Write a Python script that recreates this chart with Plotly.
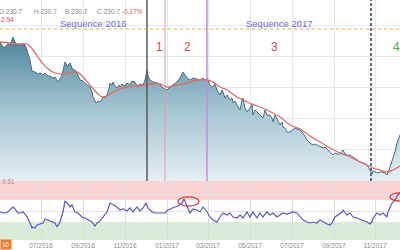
import plotly.graph_objects as go

# ---------------- data ----------------
sessions = [0,3,5,8,10,12,13,15,17,20,23,25,27,30,32,35,38,40,43,45,48,50,53,55,58,60,62,64,65,67,68,70,72,73,75,77,80,83,85,88,90,92,93,95,96,98,100,102,103,105,107,109,110,112,113,115,117,119,120,122,125,127,130,132,135,137,140,143,145,147,148,150,153,157,160,163,165,167,170,173,177,180,183,185,187,190,193,197,200,203,205,207,210,213,215,217,220,222,223,225,227,230,232,233,235,237,240,242,243,245,247,250,252,253,255,257,260,263,265,267,270,272,273,275,277,280,282,283,285,287,290,293,295,297,300,303,305,307,310,313,315,317,320,323,325,327,330,333,335,337,340,343,345,347,350,353,355,357,360,363,365,367,370,372,373,375,378,380,382,385,387,389,390,393,395,397,398,400]
price = [230.7,225.7,225.7,228.7,227.7,234.7,235.7,230.7,228.7,227.7,228.7,227.7,222.7,212.7,201.7,200.7,198.7,199.7,197.7,199.7,196.7,196.7,194.7,195.7,190.7,193.7,197.7,206.7,210.7,206.7,207.7,209.7,204.7,202.7,202.7,199.7,192.7,191.7,189.7,187.7,185.7,180.7,175.7,171.7,169.7,171.7,170.7,173.7,175.7,174.7,177.7,184.7,189.7,187.7,190.7,186.7,184.7,187.7,185.7,188.7,186.7,189.7,187.7,191.7,190.7,186.7,188.7,187.7,192.7,202.7,196.7,192.7,190.7,189.7,187.7,184.7,183.7,182.7,185.7,187.7,190.7,194.7,200.7,197.7,194.7,192.7,194.7,193.7,192.7,194.7,192.7,194.7,187.7,185.7,188.7,182.7,177.7,182.7,180.7,174.7,177.7,172.7,174.7,169.7,171.7,167.7,162.7,172.7,174.7,164.7,160.7,164.7,168.7,157.7,162.7,160.7,157.7,154.7,162.7,157.7,157.7,154.7,150.7,157.7,153.7,147.7,150.7,145.7,144.7,140.7,140.7,142.7,144.7,143.7,142.7,139.7,135.7,132.7,129.7,127.7,128.7,127.7,125.7,124.7,125.7,123.7,119.7,117.7,119.7,118.7,118.7,122.7,118.7,117.7,117.7,115.7,114.7,112.7,110.7,109.7,108.7,107.7,102.7,98.7,101.7,100.7,99.7,100.7,100.7,99.7,97.7,102.7,105.7,114.7,120.7,129.7,132.7,137.7]

ma_sessions = [0,10,20,27,33,40,47,55,63,70,77,83,90,97,103,110,117,127,140,150,160,167,177,187,197,207,213,220,227,237,247,257,267,280,290,300,310,320,330,340,350,360,367,373,380,387,393,400]
ma = [230.7,229.7,228.7,228.7,222.7,212.7,204.7,199.7,198.7,199.7,200.7,195.7,187.7,179.7,175.7,178.7,182.7,185.7,186.7,188.7,188.7,185.7,187.7,189.7,192.7,192.7,190.7,185.7,182.7,175.7,170.7,166.7,162.7,155.7,147.7,143.7,136.7,130.7,124.7,119.7,115.7,110.7,107.7,104.7,102.7,100.7,102.7,106.7]

rsi_sessions = [0,3,7,10,13,15,18,22,23,25,27,30,32,33,35,37,40,43,45,48,52,55,57,60,63,65,67,70,72,75,78,82,85,88,92,95,97,99,103,107,110,113,117,120,123,127,130,133,137,140,143,146,148,152,155,160,165,168,172,175,178,182,184,187,190,193,197,200,203,207,210,213,217,220,223,227,230,233,237,240,243,247,250,253,257,260,263,267,270,273,277,280,283,287,290,293,297,300,303,307,310,313,317,320,323,327,330,332,335,338,342,343,347,350,353,357,360,363,367,370,372,373,377,380,383,387,388,392,395,398,400]
rsi = [48.7,46.4,46.9,51.8,57.3,53.6,46.4,46.9,48.7,44.5,39.6,28.2,19.1,20.9,19.1,24.5,26.4,28.2,35.5,33.6,30.0,28.2,20.9,30.0,48.2,68.2,64.5,57.3,60.9,48.2,46.4,39.1,37.3,33.6,30.0,22.7,28.2,30.0,39.1,48.2,64.5,60.9,57.3,51.8,53.6,50.0,55.5,48.2,57.3,50.0,55.5,64.5,55.5,48.2,46.4,46.4,46.4,51.8,55.5,57.3,59.1,64.5,71.8,57.3,46.4,53.6,51.8,48.2,57.3,48.2,39.1,33.6,30.0,39.1,46.4,42.7,46.4,39.1,37.3,42.7,37.3,48.2,39.1,48.2,37.3,46.4,39.1,48.2,42.7,46.4,39.1,42.7,46.4,44.5,46.4,48.2,46.4,39.1,33.6,30.0,28.2,30.0,28.2,33.6,30.0,26.4,24.5,28.2,39.1,42.7,48.2,51.8,42.7,46.4,39.1,37.3,35.5,33.6,30.0,26.4,30.0,37.3,46.4,42.7,46.4,39.1,48.2,64.5,70.0,79.1,82.7]

tick_sessions = [41, 83, 125, 167, 208, 250, 292, 334, 375]
tick_labels = ["07/2016", "09/2016", "11/2016", "01/2017", "03/2017", "05/2017", "07/2017", "09/2017", "11/2017"]

event_sessions = [147, 165, 207, 371]
event_colors = ["#5a5a5a", "#e79a9a", "#c98ae0", "#2c3a86"]
event_dash = ["solid", "solid", "solid", "3px,2px"]
event_width = [1.5, 1, 1.5, 1.5]

phase_labels = ["1", "2", "3", "4"]
phase_sessions = [159, 187, 274, 396]
phase_colors = ["#d9474a", "#d9474a", "#d9474a", "#4fa54f"]

sequence_labels = ["Sequence 2016", "Sequence 2017"]
sequence_sessions = [93, 279]

level_price = 243.7
rsi_upper, rsi_lower = 70, 30
header = [("O 230.7", "#858585"), ("H 230.7", "#858585"), ("B 230.7", "#858585"), ("C 230.7", "#858585"), ("-0.17%", "#e05a4a")]

FONT = "Liberation Sans, Arial, sans-serif"
W, H = 400, 250

fig = go.Figure()
fig.add_trace(go.Scatter(
    x=sessions, y=price, mode="lines", line=dict(color="#46707f", width=1),
    fill="tozeroy",
    fillgradient=dict(type="vertical", start=236, stop=91.7,
                      colorscale=[[0, "#4b8399"], [0.45, "#9dbfcd"], [1, "#e6eff4"]]),
    xaxis="x", yaxis="y", hoverinfo="skip", showlegend=False))
fig.add_trace(go.Scatter(
    x=ma_sessions, y=ma, mode="lines", line=dict(color="#e36868", width=1.3, shape="spline"),
    xaxis="x", yaxis="y", hoverinfo="skip", showlegend=False))
fig.add_trace(go.Scatter(
    x=rsi_sessions, y=rsi, mode="lines", line=dict(color="#5858c4", width=1.2),
    xaxis="x2", yaxis="y2", hoverinfo="skip", showlegend=False))

shapes = []
shapes.append(dict(type="rect", xref="x2 domain", yref="y2", x0=0, x1=1, y0=rsi_upper, y1=110,
                   fillcolor="#f9d2d3", line=dict(width=0), layer="below"))
shapes.append(dict(type="rect", xref="x2 domain", yref="y2", x0=0, x1=1, y0=-10, y1=rsi_lower,
                   fillcolor="#d8ecd8", line=dict(width=0), layer="below"))
for s, c, d, w in zip(event_sessions, event_colors, event_dash, event_width):
    shapes.append(dict(type="line", xref="x", yref="y domain", x0=s, x1=s, y0=0, y1=1,
                       line=dict(color=c, width=w, dash=d)))
shapes.append(dict(type="line", xref="x domain", yref="y", x0=0, x1=1, y0=level_price, y1=level_price,
                   line=dict(color="#f0a848", width=1, dash="dot")))
shapes.append(dict(type="circle", xref="x2", yref="y2", x0=178, x1=199, y0=59, y1=75.5,
                   line=dict(color="#d83a3a", width=1.2)))
shapes.append(dict(type="circle", xref="x2", yref="y2", x0=390, x1=410, y0=68, y1=83,
                   line=dict(color="#d83a3a", width=1.2)))

ann = []
for t, s in zip(sequence_labels, sequence_sessions):
    ann.append(dict(text=t, x=s, y=1 - 16 / H, xref="x", yref="paper", showarrow=False,
                    font=dict(family=FONT, size=9.5, color="#6b6be0")))
for t, s, c in zip(phase_labels, phase_sessions, phase_colors):
    ann.append(dict(text=t, x=s, y=1 - 38 / H, xref="x", yref="paper", showarrow=False,
                    font=dict(family=FONT, size=12, color=c)))
hx = [-3, 32, 63, 95, 120]
for (t, c), px in zip(header, hx):
    ann.append(dict(text=t, x=px / W, y=1 - 6 / H, xref="paper", yref="paper", xanchor="left",
                    showarrow=False, font=dict(family=FONT, size=6.5, color=c)))
ann.append(dict(text="2.94", x=-1 / W, y=1 - 14 / H, xref="paper", yref="paper", xanchor="left",
                showarrow=False, font=dict(family=FONT, size=6.5, color="#e04a4a")))
ann.append(dict(text="9.51", x=0, y=1 - 187 / H, xref="paper", yref="paper", xanchor="left",
                showarrow=False, font=dict(family=FONT, size=6.5, color="#b98a8a")))
ann.append(dict(text="16", x=0, y=0, xref="paper", yref="paper", xanchor="left", yanchor="bottom",
                showarrow=False, bgcolor="#f07a2a", borderpad=1,
                font=dict(family=FONT, size=6.5, color="#ffffff")))

fig.update_layout(
    width=W, height=H, margin=dict(l=0, r=0, t=0, b=0),
    paper_bgcolor="#ffffff", plot_bgcolor="#ffffff",
    xaxis=dict(domain=[0, 1], range=[0, 400], anchor="y", tickvals=tick_sessions,
               showticklabels=False, showgrid=True, gridcolor="#e6e9ec", gridwidth=1,
               zeroline=False, showline=False, ticks=""),
    yaxis=dict(domain=[1 - 181 / H, 1], range=[91.7, 272.7], anchor="x",
               tick0=216.7, dtick=31, showticklabels=False, showgrid=True,
               gridcolor="#e6e9ec", zeroline=False, showline=False, ticks=""),
    xaxis2=dict(domain=[0, 1], range=[0, 400], anchor="y2", tickvals=tick_sessions,
                ticktext=tick_labels, showgrid=True, gridcolor="#d9dde2", zeroline=False,
                showline=False, ticks="", tickfont=dict(family=FONT, size=6.5, color="#8a8a8a")),
    yaxis2=dict(domain=[10 / H, 1 - 181 / H], range=[-2.7, 104.5], anchor="x2",
                tickvals=[20, 50, 80], showticklabels=False, showgrid=True,
                gridcolor="#e3e3ea", zeroline=False, showline=False, ticks=""),
    shapes=shapes, annotations=ann,
)

fig.write_html("out.html")
